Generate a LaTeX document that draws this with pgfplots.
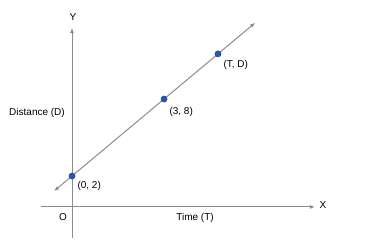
\documentclass[border=0pt]{standalone}
\usepackage{pgfplots}
\pgfplotsset{compat=1.18}
\usepackage{fontspec}
\setmainfont{Liberation Sans}
\usetikzlibrary{arrows.meta}
\definecolor{axisgray}{HTML}{8C8C8C}
\definecolor{ptblue}{HTML}{2459B0}
\definecolor{ptedge}{HTML}{1A3F80}
\definecolor{txt}{HTML}{333333}
\begin{document}
\begin{tikzpicture}
\begin{axis}[
  hide axis, clip=false,
  x=30.67pt, y=12.83pt,
  xmin=-2.348, xmax=9.879, ymin=-3.453, ymax=15.72,
  every node/.style={font=\fontsize{8.6}{10}\selectfont, text=txt, inner sep=0pt},
]
% white canvas fixing the picture size
\path[fill=white] (axis cs:-2.348,-3.453) rectangle (axis cs:9.879,15.72);
% coordinate axes
\draw[axisgray, line width=1pt, -{Latex[length=5pt,width=4pt]}] (axis cs:-1.01,-0.41) -- (axis cs:7.92,-0.41);
\draw[axisgray, line width=1pt, -{Latex[length=5pt,width=4pt]}] (axis cs:0,-2.83) -- (axis cs:0,13.54);
% distance-time line, extended both ways
\addplot[axisgray, line width=1pt, {Latex[length=5pt,width=4pt]}-{Latex[length=5pt,width=4pt]}]
  coordinates {(-0.587,0.826) (5.97,13.94)};
% marked points
\addplot[only marks, mark=*, mark size=3.1pt, mark options={fill=ptblue, draw=ptedge, line width=0.4pt}]
  coordinates {(0,2) (3,8) (4.76,11.52)};
% labels
\node at (axis cs:0.033,14.40) {Y};
\node at (axis cs:8.18,-0.26) {X};
\node at (axis cs:-0.293,-1.19) {O};
\node at (axis cs:4.01,-1.27) {Time (T)};
\node at (axis cs:-1.141,6.91) {Distance (D)};
\node[anchor=west] at (axis cs:0.065,1.22) {(0, 2)};
\node[anchor=west] at (axis cs:3.065,6.99) {(3, 8)};
\node[anchor=west] at (axis cs:4.826,10.65) {(T, D)};
\end{axis}
\end{tikzpicture}
\end{document}
